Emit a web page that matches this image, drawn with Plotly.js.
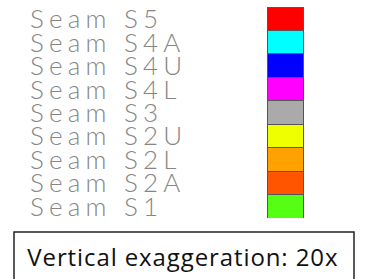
<!DOCTYPE html>
<html>
<head>
<meta charset="utf-8">
<script src="https://cdn.plot.ly/plotly-3.0.1.min.js"></script>
<style>
html,body{margin:0;padding:0;background:#fff;}
#chart{width:365px;height:279px;}
</style>
</head>
<body>
<div id="chart"></div>
<script>
// Seam names from bottom to top
var seams = ["Seam S1","Seam S2A","Seam S2L","Seam S2U","Seam S3","Seam S4L","Seam S4U","Seam S4A","Seam S5"];
var seamColors = ["#55ff14","#ff5500","#ffa200","#f0ff00","#aaaaaa","#ff00ff","#0000ff","#00ffff","#ff0000"];
var segmentSize = [1,1,1,1,1,1,1,1,1];
var noteText = "Vertical exaggeration: 20x";

var traces = seams.map(function(name, i){
  return {
    type: "bar",
    name: name,
    x: [285],
    y: [segmentSize[i]],
    width: 36,
    marker: {color: seamColors[i], line: {color: "#555555", width: 1}},
    hoverinfo: "name",
    showlegend: false
  };
});

var annotations = seams.map(function(name, i){
  var base = 0;
  for (var k = 0; k < i; k++) base += segmentSize[k];
  return {
    xref: "x", yref: "y",
    x: 28.5, y: base + segmentSize[i]/2 + 0.02,
    xanchor: "left", yanchor: "middle", align: "left",
    borderpad: 0,
    text: name, showarrow: false,
    font: {family: "Lato", size: 26, color: "#868686", weight: 300}
  };
});
annotations.push({
  xref: "paper", yref: "paper",
  x: 183/365, y: 1 - 256/279,
  xanchor: "center", yanchor: "middle",
  text: noteText, showarrow: false,
  font: {family: "Open Sans", size: 24, color: "#111111"}
});

var layout = {
  width: 365, height: 279,
  margin: {l: 0, r: 0, t: 0, b: 0, pad: 0},
  paper_bgcolor: "#ffffff", plot_bgcolor: "#ffffff",
  barmode: "stack",
  bargap: 0,
  xaxis: {range: [0, 365], visible: false, fixedrange: true},
  yaxis: {range: [0, 9], domain: [61/279, 272/279], visible: false, fixedrange: true},
  annotations: annotations,
  shapes: [{
    type: "rect", xref: "paper", yref: "paper",
    x0: 14/365, x1: 354/365, y0: -0.05, y1: 1 - 232/279,
    line: {color: "#222222", width: 1.5}, fillcolor: "rgba(0,0,0,0)"
  }]
};

Plotly.newPlot("chart", traces, layout, {staticPlot: true, displayModeBar: false}).then(function(){
  var anns = document.querySelectorAll("g.annotation");
  for (var i = 0; i < anns.length; i++) {
    var t = anns[i].querySelector("text");
    if (!t) continue;
    if (i < seams.length) {
      t.style.letterSpacing = "5.2px";
    } else {
      t.style.letterSpacing = "0.9px";
    }
  }
});
</script>
</body>
</html>
